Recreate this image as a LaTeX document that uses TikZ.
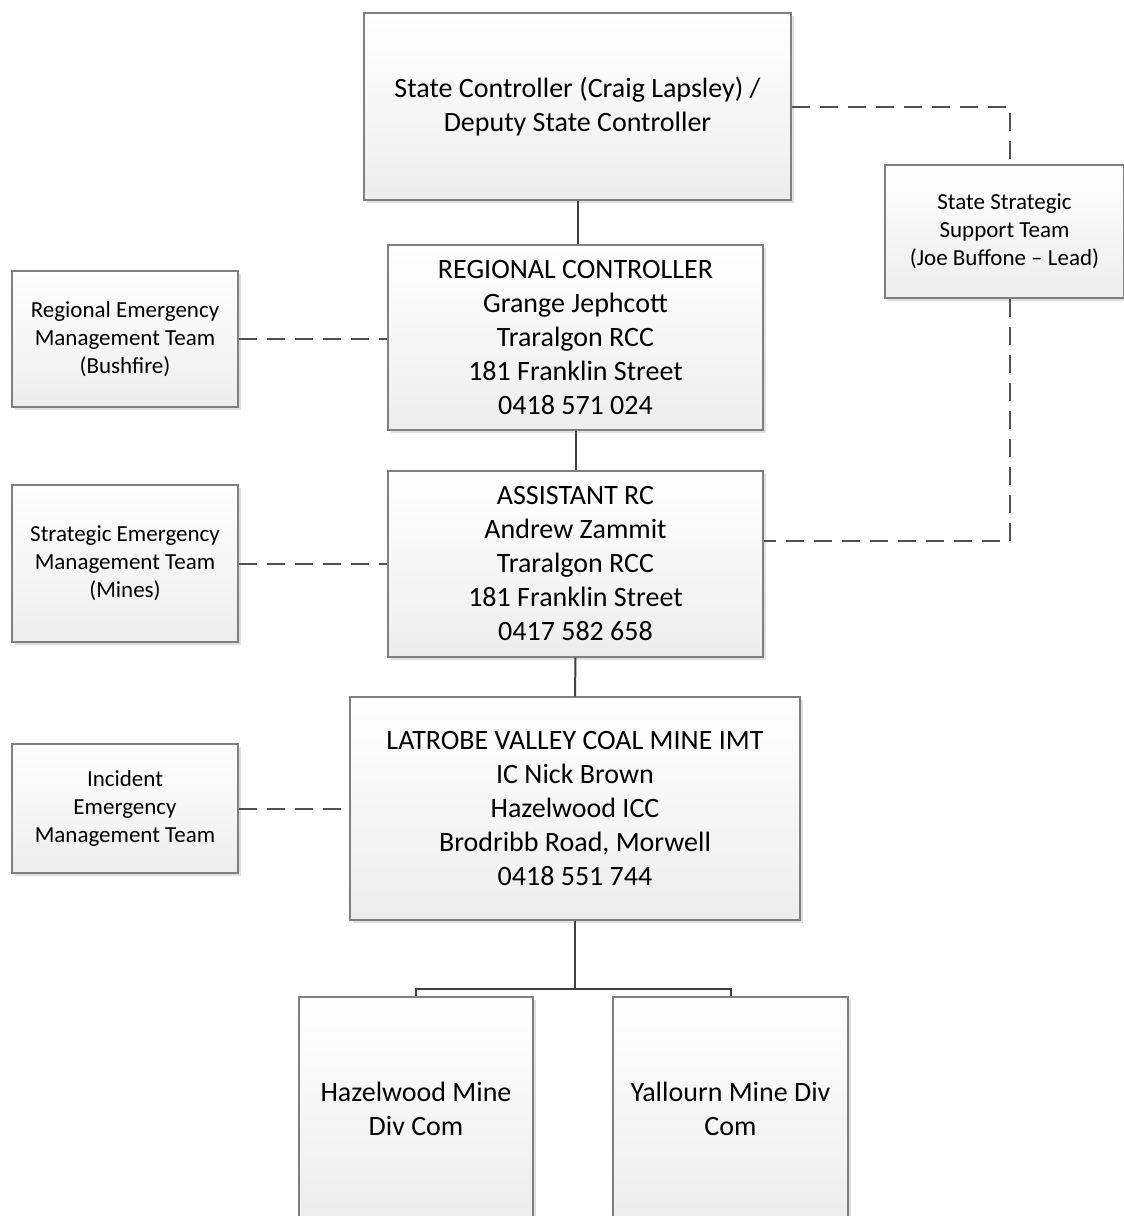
\documentclass[tikz,border=0pt]{standalone}
\usepackage{fontspec}
\setmainfont{Carlito}
\usetikzlibrary{shadows,calc}
\definecolor{edge}{HTML}{7F7F7F}
\definecolor{con}{HTML}{3F3F3F}
\definecolor{dcon}{HTML}{505050}
\tikzset{
 box/.style={draw=edge, line width=1.2pt, top color=white, bottom color=black!7, align=center, inner sep=0pt,
   general shadow={fill=black!12, shadow xshift=3pt, shadow yshift=-3pt}},
 big/.style={font=\fontsize{28}{34}\selectfont},
 small/.style={font=\fontsize{23}{28}\selectfont},
 solidcon/.style={draw=con, line width=2pt},
 dashcon/.style={draw=dcon, line width=2pt, dash pattern=on 18pt off 10pt},
}
\begin{document}
\begin{tikzpicture}[x=1pt,y=-1pt]
\useasboundingbox (0,0) rectangle (1124,1216);
\node[box,big,minimum width=427pt,minimum height=187pt] (sc) at (577.5,106.5) {State Controller (Craig Lapsley) /\\Deputy State Controller};
\node[box,small,minimum width=239pt,minimum height=133pt] (sst) at (1004.5,231.5) {State Strategic\\Support Team\\(Joe Buffone -- Lead)};
\node[box,big,minimum width=375pt,minimum height=185pt] (rc) at (575.5,337.5) {REGIONAL CONTROLLER\\Grange Jephcott\\Traralgon RCC\\181 Franklin Street\\0418 571 024};
\node[box,small,minimum width=226pt,minimum height=136pt] (remt) at (125,339) {Regional Emergency\\Management Team\\(Bushfire)};
\node[box,big,minimum width=375pt,minimum height=186pt] (arc) at (575.5,564) {ASSISTANT RC\\Andrew Zammit\\Traralgon RCC\\181 Franklin Street\\0417 582 658};
\node[box,small,minimum width=226pt,minimum height=157pt] (semt) at (125,563.5) {Strategic Emergency\\Management Team\\(Mines)};
\node[box,big,minimum width=450pt,minimum height=223pt] (imt) at (575,808.5) {LATROBE VALLEY COAL MINE IMT\\IC Nick Brown\\Hazelwood ICC\\Brodribb Road, Morwell\\0418 551 744};
\node[box,small,minimum width=226pt,minimum height=129pt] (iemt) at (125,808.5) {Incident\\Emergency\\Management Team};
\node[box,big,minimum width=234pt,minimum height=224pt] (hz) at (416,1109) {Hazelwood Mine\\Div Com};
\node[box,big,minimum width=235pt,minimum height=224pt] (yl) at (730.5,1109) {Yallourn Mine Div\\Com};
% solid connectors
\draw[solidcon] (sc.south) -- (sc.south |- rc.north);
\draw[solidcon] (rc.south) -- (arc.north);
\draw[solidcon] (arc.south) -- (imt.north);
\draw[solidcon] (imt.south) -- ++(0,68) coordinate (j);
\draw[solidcon] (hz.north) |- (j) -| (yl.north);
% dashed connectors
\coordinate (sstTop) at ($(sst.north)+(5,0)$);
\coordinate (sstBot) at ($(sst.south)+(5,0)$);
\coordinate (arcR) at ($(arc.east)+(0,-23)$);
\draw[dashcon] (sc.east) -| (sstTop);
\draw[dashcon] (sstBot) |- (arcR);
\draw[dashcon] (remt.east) -- (remt.east -| rc.west);
\draw[dashcon] (semt.east) -- (semt.east -| arc.west);
\draw[dashcon] (iemt.east) -- (iemt.east -| imt.west);
\end{tikzpicture}
\end{document}
